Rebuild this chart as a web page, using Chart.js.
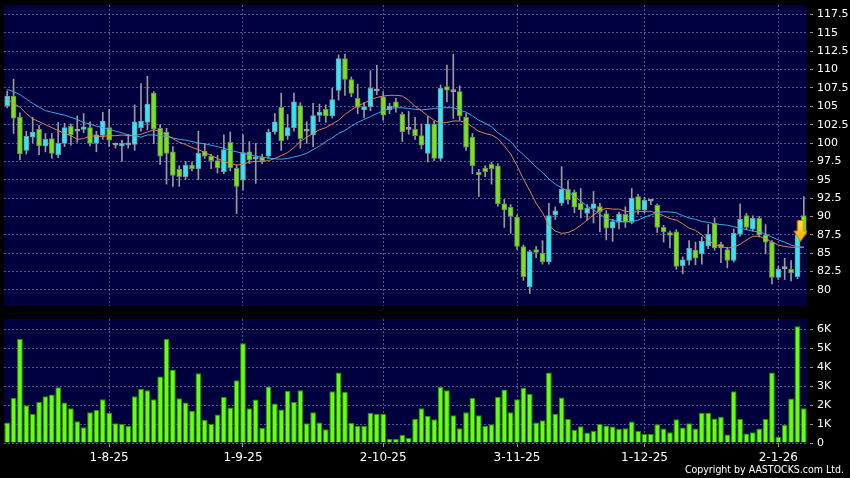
<!DOCTYPE html>
<html><head><meta charset="utf-8">
<script src="https://cdn.jsdelivr.net/npm/chart.js@4.4.1/dist/chart.umd.min.js"></script>
<style>
html,body{margin:0;padding:0;background:#000;width:850px;height:478px;overflow:hidden;position:relative}
#p{position:absolute;left:0;top:0}
#v{position:absolute;left:0;top:310px}
#cp{position:absolute;right:6px;top:463px;color:#fff;font:10.5px "DejaVu Sans Condensed","DejaVu Sans",sans-serif;white-space:nowrap;line-height:13px}
</style></head><body>
<canvas id="p" width="850" height="310"></canvas>
<canvas id="v" width="850" height="168"></canvas>
<div id="cp">Copyright by AASTOCKS.com Ltd.</div>
<script>
const open  = [105.1,106.4,103.5,99.0,100.8,101.9,99.6,100.6,98.4,99.95,102.3,101.6,101.85,102.1,99.95,101.05,102.1,99.7,99.6,99.75,99.8,102.1,102.8,106.8,102.0,101.5,98.8,96.4,95.4,97.0,96.5,98.9,98.2,97.6,96.1,100.1,96.55,94.95,98.8,97.8,98.05,98.2,101.5,104.85,101.0,102.1,105.1,101.6,101.1,103.75,104.6,103.7,107.15,111.5,108.65,106.1,104.5,104.95,107.1,106.3,104.5,105.6,103.9,101.85,101.85,101.0,98.6,102.6,97.9,107.7,107.0,107.0,103.5,100.8,96.0,96.55,97.1,96.9,91.7,91.25,89.9,85.9,80.45,85.5,85.0,83.85,90.2,91.8,93.7,93.3,91.8,90.4,91.1,91.35,90.4,88.4,89.2,90.3,89.2,92.7,90.9,92.1,91.5,88.5,87.8,87.9,83.3,84.0,85.4,84.9,86.0,89.05,86.2,85.5,84.0,87.6,90.1,88.25,89.75,87.5,86.5,81.7,82.9,82.8,81.8,90.1];
const high  = [107.1,108.7,104.1,101.6,103.5,102.4,101.3,101.3,102.8,102.7,102.6,103.7,104.0,102.9,101.6,104.2,104.6,100.0,100.4,101.2,105.2,108.1,109.1,107.0,102.5,102.0,99.5,96.9,97.5,97.4,101.6,99.95,98.5,98.3,101.1,101.5,97.0,101.1,100.2,99.95,98.5,101.9,104.0,106.8,103.9,106.8,105.5,102.9,105.4,105.3,105.2,107.5,112.0,112.1,109.0,108.0,105.5,109.85,110.6,107.0,105.4,106.1,104.2,104.3,103.5,102.6,103.6,103.0,107.9,110.6,112.1,107.8,104.0,101.3,96.4,96.9,97.4,97.2,92.3,91.6,90.2,86.1,85.4,85.9,86.7,91.8,91.3,96.8,94.9,93.6,93.8,91.6,93.4,91.8,90.8,89.6,90.6,91.3,93.8,93.0,92.6,92.2,91.7,88.8,88.0,88.2,84.5,86.7,86.5,87.2,88.9,89.8,86.5,85.8,88.3,91.7,90.4,90.1,90.0,88.9,86.7,83.2,84.3,84.0,87.8,92.7];
const low   = [104.8,101.3,97.7,98.5,100.0,98.4,98.8,97.9,98.0,99.5,99.7,100.1,101.4,99.6,98.8,100.5,99.5,99.3,97.5,99.3,99.0,101.6,101.8,99.9,97.1,94.4,94.1,94.1,95.0,96.2,95.0,97.9,96.5,95.9,95.8,96.2,90.4,93.6,97.2,94.5,97.2,97.9,101.2,99.0,100.5,101.6,99.3,99.95,99.5,102.9,102.8,103.4,105.85,106.5,106.3,104.0,103.5,104.4,106.6,103.1,104.0,104.2,100.2,101.2,100.5,99.2,97.4,97.6,97.6,105.6,103.35,103.1,99.0,95.8,92.7,95.4,94.4,91.4,88.5,87.7,85.5,81.3,79.5,84.4,83.5,83.5,89.6,91.5,91.7,90.5,89.8,89.5,89.1,87.9,86.8,86.6,88.3,88.5,89.0,90.3,90.5,91.6,87.8,86.5,85.7,82.8,82.2,83.4,83.4,83.5,85.6,85.4,83.7,83.0,83.8,87.3,88.2,88.0,87.2,84.9,80.8,81.4,81.4,81.2,81.5,87.3];
const close = [106.4,103.4,98.5,100.9,101.5,99.6,100.5,98.6,99.95,102.1,101.1,101.6,102.2,99.95,101.1,103.0,100.4,99.7,99.95,99.95,102.9,103.0,105.3,101.9,98.2,98.6,95.6,95.4,97.0,96.5,98.6,98.2,97.6,96.6,99.1,96.6,94.1,98.7,97.7,97.8,97.6,101.45,102.9,100.3,102.1,105.6,100.6,101.6,103.75,104.2,103.7,105.9,111.5,108.65,106.75,104.85,104.95,107.45,107.1,103.8,105.0,104.85,101.55,101.85,101.0,99.7,102.6,97.9,107.45,107.2,107.0,103.7,99.45,96.9,95.65,96.1,96.5,91.7,90.9,90.0,85.9,81.8,85.2,85.1,83.85,90.1,90.75,93.7,92.3,91.25,90.9,91.1,91.7,90.65,88.4,89.3,90.3,89.2,92.5,90.9,92.2,92.1,88.5,87.9,87.4,83.2,84.1,85.7,84.3,86.6,87.55,85.7,85.7,84.0,87.7,89.6,88.5,89.75,87.5,86.5,81.7,82.8,82.9,82.3,87.5,87.5];
const ma10  = [106.0,105.4,104.9,104.0,103.3,102.9,102.5,102.1,101.7,101.3,101.0,100.5,100.6,101.0,100.9,100.9,101.0,101.0,101.1,101.0,101.0,101.2,101.5,101.8,101.6,101.1,100.6,100.1,99.8,99.4,99.1,98.7,98.3,97.9,97.5,97.2,97.0,97.1,97.4,97.5,97.5,97.6,97.9,98.3,98.7,99.4,100.2,100.8,101.3,101.8,102.1,102.6,103.1,103.9,104.5,105.1,105.4,105.9,106.2,106.4,106.5,106.5,106.4,105.8,105.0,104.4,103.7,103.1,102.7,102.8,103.0,103.0,102.8,102.2,101.6,101.3,101.1,100.6,99.6,98.5,96.9,95.1,93.5,91.8,90.5,88.8,88.0,87.7,87.8,88.2,88.8,89.5,90.2,90.8,91.1,91.0,91.0,90.7,90.6,90.65,90.7,90.7,90.4,90.1,89.7,89.5,89.0,88.4,88.1,87.5,86.7,86.2,85.9,85.7,85.8,86.2,86.8,87.3,87.3,87.0,86.5,86.1,85.9,85.8,85.8,85.8];
const ma20  = [107.3,107.0,106.6,106.0,105.4,104.9,104.4,104.2,104.0,103.8,103.5,103.2,102.8,102.6,102.3,102.1,101.9,101.6,101.4,101.1,101.0,100.8,101.1,101.1,101.0,100.9,100.7,100.5,100.4,100.2,100.0,99.9,99.7,99.5,99.3,99.0,98.8,98.6,98.4,98.2,98.1,97.95,97.85,97.8,97.9,98.1,98.3,98.6,99.1,99.6,100.2,100.7,101.3,101.7,102.3,102.8,103.2,103.6,104.0,104.4,104.7,104.8,104.8,104.7,104.6,104.5,104.6,104.7,104.8,104.8,104.8,104.5,104.2,103.7,103.1,102.7,102.2,101.4,100.8,100.2,99.2,98.4,97.6,96.7,96.0,95.1,94.4,93.9,93.4,92.7,92.1,91.4,90.9,90.3,89.7,89.5,89.3,89.3,89.3,89.5,89.9,90.2,90.5,90.65,90.6,90.5,90.1,89.8,89.6,89.3,89.2,89.0,88.9,88.8,88.6,88.4,88.2,88.0,87.9,87.6,87.2,86.8,86.5,86.1,85.9,85.8];
const volume = [1.08,2.38,5.5,2.0,1.53,2.17,2.47,2.56,2.94,2.14,1.84,1.15,0.83,1.62,1.74,2.31,1.58,1.04,1.0,0.9,2.47,2.87,2.78,2.31,3.51,5.5,3.88,2.37,2.14,1.7,3.69,1.22,1.0,1.51,2.43,1.88,3.32,5.27,1.84,2.3,0.8,2.99,2.09,1.77,2.75,2.16,2.78,1.04,1.62,1.08,0.73,2.73,3.72,2.71,1.06,0.9,0.9,1.58,1.55,1.55,0.23,0.23,0.43,0.26,1.27,1.84,1.44,1.25,2.96,2.78,1.46,0.78,1.63,2.38,1.46,0.9,0.99,2.43,2.83,1.62,2.31,2.9,2.59,1.08,1.2,3.72,1.55,2.4,1.27,0.7,0.89,0.56,0.64,1.0,0.92,0.87,0.75,0.78,1.13,0.64,0.47,0.47,0.99,0.77,0.57,1.25,0.82,1.04,0.77,1.6,1.6,1.29,1.39,0.45,2.73,1.27,0.5,0.57,0.77,1.27,3.72,0.33,0.96,2.35,6.17,1.83];
const tickIndex = [16,37,59,80,100,121];
const tickText  = ['1-8-25','1-9-25','2-10-25','3-11-25','1-12-25','2-1-26'];
const priceTicks = [80,82.5,85,87.5,90,92.5,95,97.5,100,102.5,105,107.5,110,112.5,115,117.5];
const volTicks = [0,1,2,3,4,5,6];
const volTickText = ['0','1K','2K','3K','4K','5K','6K'];
const arrowAt = 124, arrowPrice = 88.0;

const labels = open.map((_, i) => i);
const GRID = '#55558a', TICK = '#9a9a9a', NAVY = '#00003f';
const GREEN = '#77e31b', GREEN_B = '#6b8c58', CYAN = '#2ee8f2', CYAN_B = '#7c96a6', GREY = '#a0a0a0';

const bg = {id:'bg', beforeDraw(c){const g=c.ctx,a=c.chartArea;g.save();g.fillStyle='#000';g.fillRect(0,0,c.width,c.height);g.fillStyle=NAVY;g.fillRect(a.left,a.top,a.right-a.left,a.bottom-a.top);g.restore();}};

function arrowImg(){
  const c=document.createElement('canvas'); c.width=20; c.height=22;
  const g=c.getContext('2d');
  const gr=g.createLinearGradient(0,0,0,22); gr.addColorStop(0,'#fff04a'); gr.addColorStop(1,'#ffa000');
  g.fillStyle=gr; g.strokeStyle='#d88600'; g.lineWidth=1;
  g.beginPath(); g.moveTo(10,0.5); g.lineTo(16,0.5); g.lineTo(16,11); g.lineTo(19.5,11); g.lineTo(13,21.5); g.lineTo(6.5,11); g.lineTo(10,11); g.closePath(); g.fill(); g.stroke();
  return c;
}
const dir = i => close[i] > open[i] ? 1 : (close[i] < open[i] ? -1 : 0);
const font11 = {family:'DejaVu Sans', size:11};
const font12 = {family:'DejaVu Sans', size:12};
const xTicksFilter = s => { s.ticks = tickIndex.map(v => ({value:v})); };
const noPad = s => { s.paddingTop = 0; s.paddingBottom = 0; };

new Chart(document.getElementById('p'), {
  type:'bar',
  data:{labels, datasets:[
    {type:'scatter', data:[{x:arrowAt, y:arrowPrice}], pointStyle:arrowImg(), pointRadius:11, order:0, clip:false},
    {type:'line', data:ma10, borderColor:'#d9844f', borderWidth:1, pointRadius:0, tension:0, order:1},
    {type:'line', data:ma20, borderColor:'#3ea6e6', borderWidth:1, pointRadius:0, tension:0, order:1},
    {type:'bar', data:open.map((o,i)=>[o,close[i]]), grouped:false, barThickness:5, minBarLength:2, borderWidth:1, borderSkipped:false,
      backgroundColor: ctx => {const d=dir(ctx.dataIndex); return d>0?CYAN:(d<0?GREEN:GREY);},
      borderColor: ctx => {const d=dir(ctx.dataIndex); return d>0?CYAN_B:(d<0?GREEN_B:GREY);}, order:2},
    {type:'bar', data:low.map((l,i)=>[l,high[i]]), grouped:false, barThickness:1, backgroundColor:'#9a9a9a', order:3}
  ]},
  options:{responsive:false, animation:false, events:[],
    plugins:{legend:{display:false}, tooltip:{enabled:false}},
    layout:{autoPadding:false, padding:{left:4, top:5, right:0, bottom:4}},
    scales:{
      x:{type:'category', offset:true, grid:{offset:false, color:GRID, drawTicks:false}, border:{display:false, dash:[2,2]},
         ticks:{display:false}, afterBuildTicks:xTicksFilter, afterFit:s=>{s.height=0; s.paddingLeft=0; s.paddingRight=0;}},
      y:{position:'right', min:77.8, max:118.8, grid:{color:GRID, drawTicks:true, tickLength:6, tickColor:TICK, tickBorderDash:[0,3,3,8]},
         border:{display:false, dash:[2,2]},
         ticks:{color:'#ffffff', font:font11, padding:4, callback:v=>String(v)},
         afterBuildTicks:s=>{s.ticks=priceTicks.map(v=>({value:v}));}, afterFit:s=>{s.width=43; noPad(s);}}
    }
  }, plugins:[bg]
});

new Chart(document.getElementById('v'), {
  type:'bar',
  data:{labels, datasets:[
    {data:volume, backgroundColor:'#66ff14', borderColor:'#2f8f00', borderWidth:1, barPercentage:0.9, categoryPercentage:1.0}
  ]},
  options:{responsive:false, animation:false, events:[],
    plugins:{legend:{display:false}, tooltip:{enabled:false}},
    layout:{autoPadding:false, padding:{left:4, top:9, right:0, bottom:0}},
    scales:{
      x:{type:'category', offset:true, grid:{offset:false, color:GRID, drawTicks:true, tickLength:4, tickColor:TICK}, border:{display:false, dash:[2,2]},
         ticks:{color:'#ffffff', font:font12, padding:4, maxRotation:0, autoSkip:false, callback:v=>tickText[tickIndex.indexOf(v)]},
         afterBuildTicks:xTicksFilter, afterFit:s=>{s.height=35; s.paddingLeft=0; s.paddingRight=0;}},
      y:{position:'right', min:0, max:6.55, grid:{color:GRID, drawTicks:true, tickLength:6, tickColor:TICK, tickBorderDash:[0,3,3,8]},
         border:{display:false, dash:[2,2]},
         ticks:{color:'#ffffff', font:font11, padding:4, callback:v=>volTickText[volTicks.indexOf(v)]},
         afterBuildTicks:s=>{s.ticks=volTicks.map(v=>({value:v}));}, afterFit:s=>{s.width=43; noPad(s);}}
    }
  }, plugins:[bg]
});
</script>
</body></html>
